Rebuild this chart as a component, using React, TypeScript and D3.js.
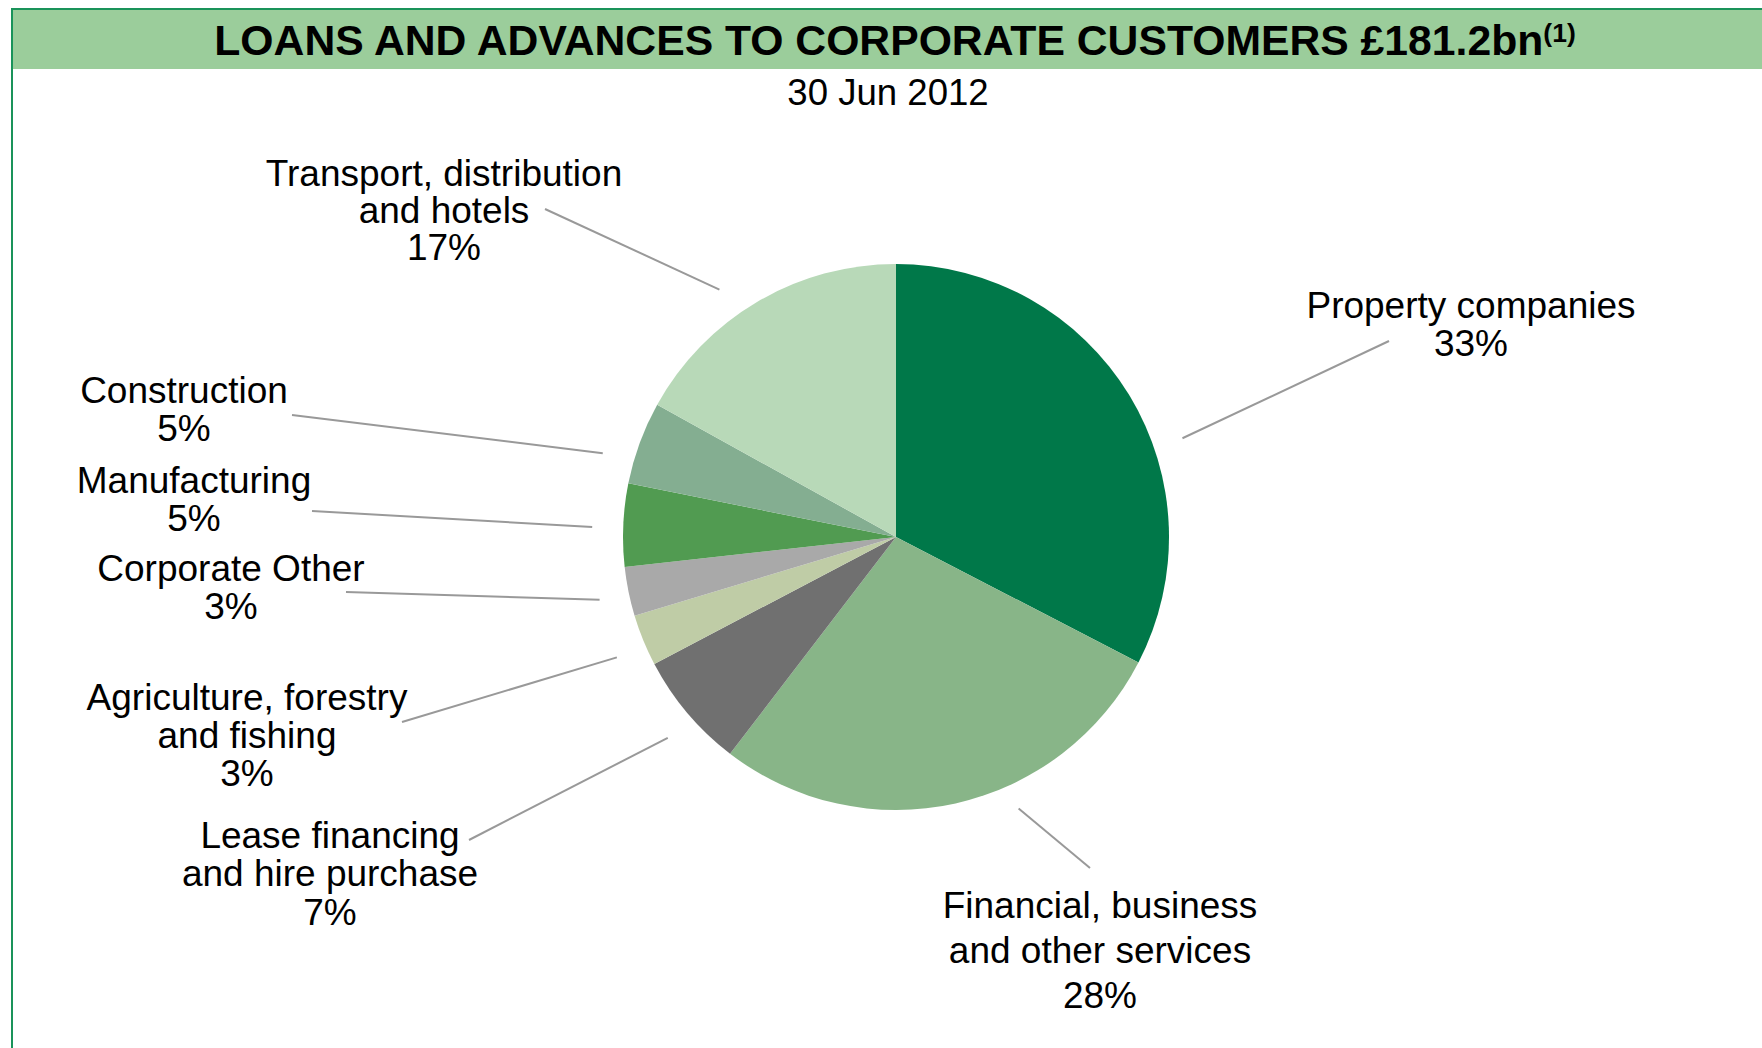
import React from "react";
import * as d3 from "d3";

// ---- data ----
const categories = [
  "Property companies",
  "Financial, business and other services",
  "Lease financing and hire purchase",
  "Agriculture, forestry and fishing",
  "Corporate Other",
  "Manufacturing",
  "Construction",
  "Transport, distribution and hotels",
];
const shares = [32.6, 27.8, 6.9, 3.05, 2.9, 4.9, 4.9, 16.95];
const pctLabels = ["33%", "28%", "7%", "3%", "3%", "5%", "5%", "17%"];
const labelLines = [
  ["Property companies"],
  ["Financial, business", "and other services"],
  ["Lease financing", "and hire purchase"],
  ["Agriculture, forestry", "and fishing"],
  ["Corporate Other"],
  ["Manufacturing"],
  ["Construction"],
  ["Transport, distribution", "and hotels"],
];
const colors = [
  "#007849",
  "#88B588",
  "#707070",
  "#BFCCA6",
  "#A9A9A9",
  "#519B51",
  "#84AE91",
  "#B8D9B8",
];
const titleText = "LOANS AND ADVANCES TO CORPORATE CUSTOMERS £181.2bn";
const titleNote = "(1)";
const subtitle = "30 Jun 2012";

// ---- layout (label anchor, line spacing, leader end, leader angle nudge) ----
const labelLayout = [
  { x: 1471, y: 318, lh: 37.5, ex: 1389, ey: 341, nudge: 12.3, r: 303 },
  { x: 1100, y: 918, lh: 45, ex: 1090, ey: 868, nudge: -11.7, r: 298 },
  { x: 330, y: 848, lh: 38.3, ex: 469, ey: 840, nudge: -1.2, r: 304 },
  { x: 247, y: 709.5, lh: 38.3, ex: 402, ey: 722, nudge: -1.1, r: 304 },
  { x: 231, y: 581, lh: 38, ex: 346, ey: 592, nudge: -0.45, r: 303 },
  { x: 194, y: 493, lh: 37.5, ex: 312, ey: 511, nudge: -0.65, r: 304 },
  { x: 184, y: 403, lh: 37.5, ex: 292, ey: 415, nudge: -4.2, r: 305 },
  { x: 444, y: 186, lh: 37.2, ex: 545, ey: 209, nudge: -5, r: 304 },
];

const W = 1762;
const H = 1048;
const cx = 896;
const cy = 537;
const R = 273;
const FONT = "'Liberation Sans', Arial, Helvetica, sans-serif";

export default function App() {
  const pie = d3
    .pie<number>()
    .sort(null)
    .value((d) => d)
    .startAngle(0)
    .endAngle(2 * Math.PI);
  const arcs = pie(shares);
  const arcGen = d3.arc<d3.PieArcDatum<number>>().innerRadius(0).outerRadius(R);

  return (
    <svg
      width={W}
      height={H}
      viewBox={`0 0 ${W} ${H}`}
      style={{ position: "absolute", left: 0, top: 0, background: "#fff" }}
      fontFamily={FONT}
    >
      {/* frame and title band */}
      <rect x={13} y={10} width={W - 13} height={59} fill="#9BCD9B" />
      <line x1={12} y1={9} x2={W} y2={9} stroke="#1A935A" strokeWidth={2} />
      <line x1={12} y1={8} x2={12} y2={H} stroke="#1A935A" strokeWidth={2} />
      <text x={895} y={55} textAnchor="middle" fontWeight="bold" fontSize={42.7} fill="#000">
        {titleText}
        <tspan fontSize={26.5} dy={-13}>
          {titleNote}
        </tspan>
      </text>
      <text x={888} y={105} textAnchor="middle" fontSize={36.6} fill="#000">
        {subtitle}
      </text>

      {/* pie */}
      <g transform={`translate(${cx},${cy})`}>
        {arcs.map((a, i) => (
          <path key={categories[i]} d={arcGen(a) || ""} fill={colors[i]} />
        ))}
      </g>

      {/* leaders and labels */}
      {arcs.map((a, i) => {
        const L = labelLayout[i];
        const mid = (a.startAngle + a.endAngle) / 2 + (L.nudge * Math.PI) / 180;
        const ix = cx + L.r * Math.sin(mid);
        const iy = cy - L.r * Math.cos(mid);
        const lines = [...labelLines[i], pctLabels[i]];
        return (
          <g key={"lab" + i}>
            <line x1={ix} y1={iy} x2={L.ex} y2={L.ey} stroke="#999999" strokeWidth={2} />
            <text textAnchor="middle" fontSize={37} fill="#000">
              {lines.map((t, k) => (
                <tspan key={k} x={L.x} y={L.y + k * L.lh}>
                  {t}
                </tspan>
              ))}
            </text>
          </g>
        );
      })}
    </svg>
  );
}
